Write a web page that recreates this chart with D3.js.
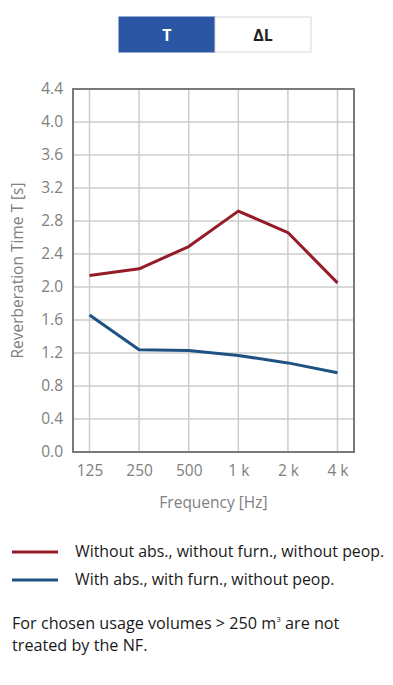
<!DOCTYPE html>
<html>
<head>
<meta charset="utf-8">
<script src="https://cdn.jsdelivr.net/npm/d3@7"></script>
<style>
  body { margin: 0; background: #fff; }
  svg { display: block; font-family: "Open Sans", "Noto Sans", sans-serif; }
</style>
</head>
<body>
<div id="chart"></div>
<script>
// data
const frequencies = ["125", "250", "500", "1 k", "2 k", "4 k"];
const redValues = [2.14, 2.22, 2.49, 2.92, 2.66, 2.05];
const blueValues = [1.66, 1.24, 1.23, 1.17, 1.08, 0.96];
const yTicks = [0.0, 0.4, 0.8, 1.2, 1.6, 2.0, 2.4, 2.8, 3.2, 3.6, 4.0, 4.4];
const seriesNames = [
  "Without abs., without furn., without peop.",
  "With abs., with furn., without peop."
];
const seriesColors = ["#951b27", "#1f5283"];
const tabs = ["T", "\u0394L"];

const W = 393, H = 685;
const svg = d3.select("#chart").append("svg")
  .attr("width", W)
  .attr("height", H);

// tab switch on top
const tabX = d3.scaleBand().domain(tabs).range([119, 311]);
svg.selectAll("rect.tab")
  .data(tabs)
  .enter()
  .append("rect")
  .attr("class", "tab")
  .attr("x", d => tabX(d))
  .attr("y", 17)
  .attr("width", tabX.bandwidth())
  .attr("height", 35)
  .attr("fill", (d, i) => i == 0 ? "#2a56a3" : "#fff")
  .attr("stroke", (d, i) => i == 0 ? "#2a56a3" : "#d8d8d8");
svg.selectAll("text.tab")
  .data(tabs)
  .enter()
  .append("text")
  .attr("x", d => tabX(d) + tabX.bandwidth() / 2)
  .attr("y", 35)
  .attr("dy", "0.35em")
  .attr("text-anchor", "middle")
  .attr("font-size", 16)
  .attr("font-weight", "bold")
  .attr("fill", (d, i) => i == 0 ? "#fff" : "#222")
  .text(d => d);

// plot area
const plotL = 73, plotR = 354, plotT = 89, plotB = 452;
const x = d3.scalePoint().domain(frequencies).range([plotL, plotR]).padding(0.333);
const y = d3.scaleLinear().domain([0, 4.4]).range([plotB, plotT]);

// grid
svg.append("g")
  .selectAll("line")
  .data(yTicks)
  .enter()
  .append("line")
  .attr("x1", plotL).attr("x2", plotR)
  .attr("y1", d => y(d)).attr("y2", d => y(d))
  .attr("stroke", "#cccccc")
  .attr("stroke-width", 1.5);
svg.append("g")
  .selectAll("line")
  .data(frequencies)
  .enter()
  .append("line")
  .attr("x1", d => x(d)).attr("x2", d => x(d))
  .attr("y1", plotT).attr("y2", plotB)
  .attr("stroke", "#cccccc")
  .attr("stroke-width", 1.5);

// frame
svg.append("rect")
  .attr("x", plotL).attr("y", plotT)
  .attr("width", plotR - plotL).attr("height", plotB - plotT)
  .attr("fill", "none")
  .attr("stroke", "#7a7a7a")
  .attr("stroke-width", 2);

// axes (labels only)
const yAxis = svg.append("g")
  .attr("transform", `translate(${plotL},0)`)
  .call(d3.axisLeft(y).tickValues(yTicks).tickFormat(d3.format(".1f")).tickSize(0).tickPadding(10));
const xAxis = svg.append("g")
  .attr("transform", `translate(0,${plotB})`)
  .call(d3.axisBottom(x).tickSize(0).tickPadding(13));
[yAxis, xAxis].forEach(g => {
  g.select(".domain").remove();
  g.selectAll("text")
    .attr("font-size", 15.5)
    .attr("fill", "#808080")
    .attr("font-family", "\"Open Sans\", sans-serif");
});

svg.append("text")
  .attr("x", (plotL + plotR) / 2)
  .attr("y", 503)
  .attr("dy", "0.35em")
  .attr("text-anchor", "middle")
  .attr("font-size", 15.5)
  .attr("fill", "#808080")
  .text("Frequency [Hz]");

svg.append("text")
  .attr("transform", `translate(18,${(plotT + plotB) / 2}) rotate(-90)`)
  .attr("dy", "0.35em")
  .attr("text-anchor", "middle")
  .attr("font-size", 15.5)
  .attr("fill", "#808080")
  .text("Reverberation Time T [s]");

// lines
const line = d3.line()
  .x((d, i) => x(frequencies[i]))
  .y(d => y(d));
[redValues, blueValues].forEach((vals, i) => {
  svg.append("path")
    .attr("d", line(vals))
    .attr("fill", "none")
    .attr("stroke", seriesColors[i])
    .attr("stroke-width", 3)
    .attr("stroke-linejoin", "round");
});

// legend
seriesNames.forEach((name, i) => {
  const ly = 552 + i * 28;
  svg.append("line")
    .attr("x1", 12).attr("x2", 58)
    .attr("y1", ly).attr("y2", ly)
    .attr("stroke", seriesColors[i])
    .attr("stroke-width", 3);
  svg.append("text")
    .attr("x", 75)
    .attr("y", ly - 1)
    .attr("dy", "0.35em")
    .attr("font-size", 15.9)
    .attr("fill", "#1a1a1a")
    .text(name);
});

// note
const note = svg.append("text")
  .attr("font-size", 16.2)
  .attr("fill", "#1a1a1a");
note.append("tspan").attr("x", 12).attr("y", 629).text("For chosen usage volumes > 250 m");
note.append("tspan").attr("dy", -7).attr("font-size", 8).text("3");
note.append("tspan").attr("dy", 7).text(" are not");
note.append("tspan").attr("x", 12).attr("y", 651).text("treated by the NF.");
</script>
</body>
</html>
